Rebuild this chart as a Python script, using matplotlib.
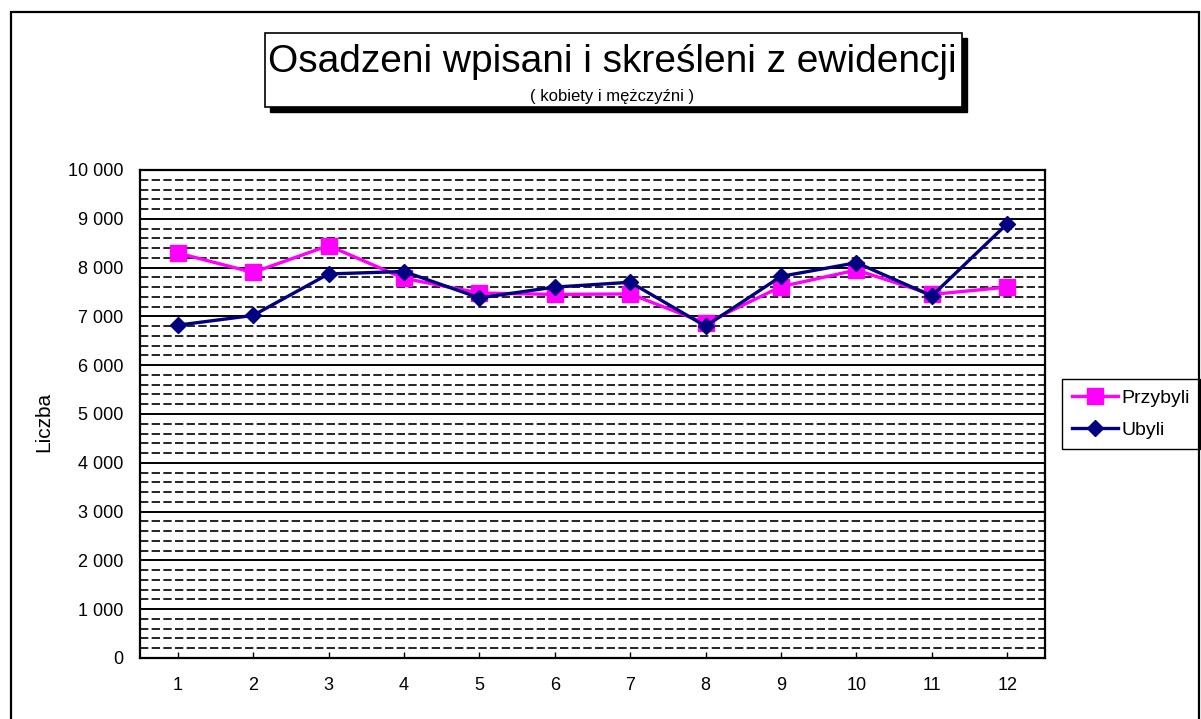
import numpy as np
import matplotlib
matplotlib.use("Agg")
import matplotlib.pyplot as plt
from matplotlib.patches import Rectangle
from matplotlib.ticker import MultipleLocator, FuncFormatter

plt.rcParams["font.family"] = ["Liberation Sans", "DejaVu Sans"]

months = [1, 2, 3, 4, 5, 6, 7, 8, 9, 10, 11, 12]
przybyli = [8300, 7900, 8450, 7780, 7480, 7450, 7460, 6860, 7610, 7950, 7450, 7600]
ubyli = [6820, 7020, 7870, 7920, 7380, 7600, 7700, 6800, 7820, 8100, 7420, 8900]

W, H = 1201, 719
fig = plt.figure(figsize=(W / 100, H / 100), dpi=100)

# outer chart border
fig.patches.append(Rectangle((11 / W, -0.05), 1188 / W, 1.05 - 12 / H, transform=fig.transFigure,
                             fill=False, edgecolor="black", linewidth=1.6))

# title box with shadow
bx, by, bw, bh = 265, 33, 697, 74
fig.patches.append(Rectangle(((bx + 5) / W, 1 - (by + bh + 5) / H), bw / W, bh / H,
                             transform=fig.transFigure, facecolor="black", edgecolor="black"))
fig.patches.append(Rectangle((bx / W, 1 - (by + bh) / H), bw / W, bh / H,
                             transform=fig.transFigure, facecolor="white", edgecolor="black", linewidth=1.2))
fig.text(612 / W, 1 - 62 / H, "Osadzeni wpisani i skreśleni z ewidencji", ha="center", va="center", fontsize=28)
fig.text(612 / W, 1 - 97 / H, "( kobiety i mężczyźni )", ha="center", va="center", fontsize=12)

ax = fig.add_axes([140 / W, 61 / H, 905 / W, 488 / H])
ax.plot(months, przybyli, color="#FF00FF", linewidth=2.4, marker="s", markersize=11, label="Przybyli")
ax.plot(months, ubyli, color="#000080", linewidth=2.4, marker="D", markersize=8.5, label="Ubyli")

ax.set_xlim(0.5, 12.5)
ax.set_ylim(0, 10000)
ax.set_xticks(months)
ax.yaxis.set_major_locator(MultipleLocator(1000))
ax.yaxis.set_minor_locator(MultipleLocator(200))
ax.yaxis.set_major_formatter(FuncFormatter(lambda v, p: f"{int(v):,}".replace(",", " ")))
ax.grid(True, which="major", axis="y", color="black", linewidth=1.4, linestyle="-")
ax.grid(True, which="minor", axis="y", color="black", linewidth=1.2, linestyle=(0, (5, 2)))
ax.set_axisbelow(True)

ax.tick_params(axis="x", direction="in", length=4, width=1, labelsize=13, pad=14)
ax.tick_params(axis="y", which="both", length=0, labelsize=13, pad=12)
for s in ax.spines.values():
    s.set_linewidth(1.6)

ax.set_ylabel("Liczba", fontsize=15)
ax.yaxis.set_label_coords(-0.096, 0.484)

ax.legend(loc="center left", bbox_to_anchor=(1062 / W, 1 - 414 / H), bbox_transform=fig.transFigure,
          fontsize=14, frameon=True, fancybox=False, edgecolor="black", framealpha=1,
          handlelength=2.4, handletextpad=0.15, borderpad=0.5, labelspacing=0.75, borderaxespad=0)

fig.savefig("out.png", dpi=100)
